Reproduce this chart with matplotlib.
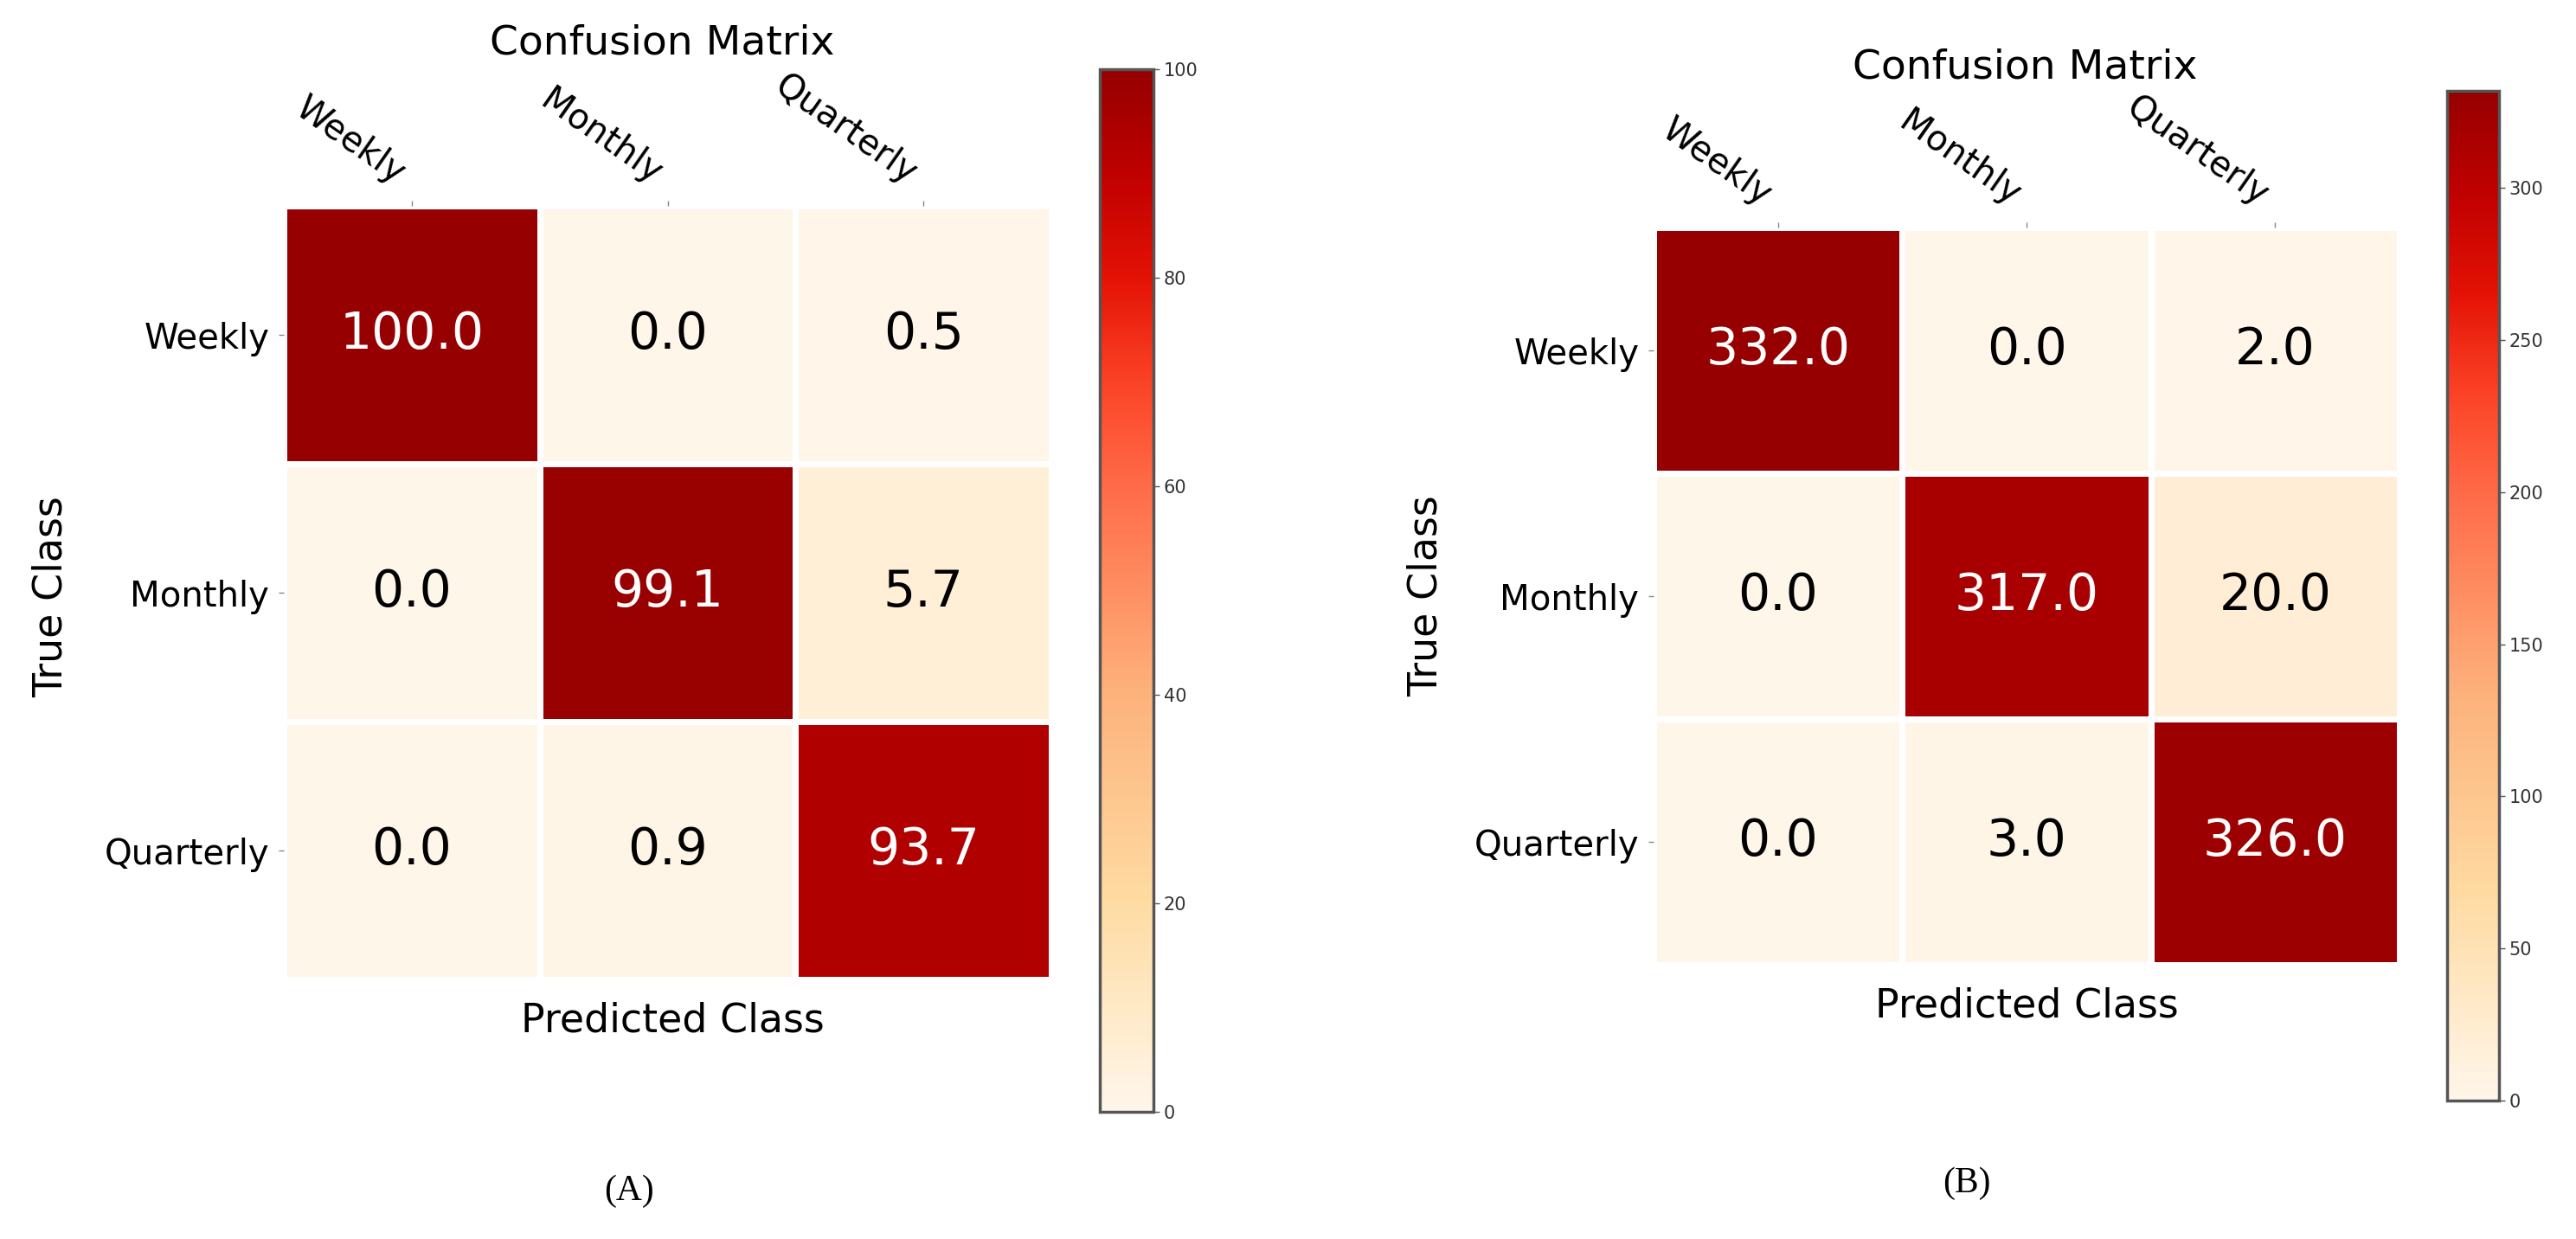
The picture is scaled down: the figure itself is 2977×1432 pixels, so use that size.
import numpy as np
import matplotlib
matplotlib.use("Agg")
import matplotlib.pyplot as plt
from matplotlib.colors import LinearSegmentedColormap

classes = ["Weekly", "Monthly", "Quarterly"]

# panel (A): percentages
cm_a = [
    [100.0, 0.0, 0.5],
    [0.0, 99.1, 5.7],
    [0.0, 0.9, 93.7],
]
# panel (B): counts
cm_b = [
    [332.0, 0.0, 2.0],
    [0.0, 317.0, 20.0],
    [0.0, 3.0, 326.0],
]
ticks_a = [0, 20, 40, 60, 80, 100]
ticks_b = [0, 50, 100, 150, 200, 250, 300]

# colours picked off the reference colorbar
cmap = LinearSegmentedColormap.from_list(
    "orrd_ref",
    [
        (0.00, "#fff6ea"),
        (0.20, "#fedba2"),
        (0.40, "#fdb27c"),
        (0.60, "#ff6b48"),
        (0.70, "#fb4326"),
        (0.80, "#e41205"),
        (0.90, "#c00000"),
        (1.00, "#960000"),
    ],
)

W, H = 2977, 1432
fig = plt.figure(figsize=(W / 100, H / 100), dpi=100)


def px_rect(x0, y0, x1, y1):
    # pixel box (top-left origin) -> figure fraction rect
    return [x0 / W, 1 - y1 / H, (x1 - x0) / W, (y1 - y0) / H]


def draw_panel(data, hm_box, cb_box, cb_ticks):
    data = np.array(data)
    vmin, vmax = data.min(), data.max()
    ax = fig.add_axes(px_rect(*hm_box))
    mesh = ax.pcolormesh(data, cmap=cmap, vmin=vmin, vmax=vmax,
                         edgecolors="white", linewidth=5)
    ax.set_xlim(0, 3)
    ax.set_ylim(3, 0)
    for s in ax.spines.values():
        s.set_visible(False)

    ax.xaxis.tick_top()
    ax.set_xticks(np.arange(3) + 0.5)
    ax.set_yticks(np.arange(3) + 0.5)
    ax.set_xticklabels(classes, fontsize=29, rotation=-35, ha="right",
                       rotation_mode="default")
    ax.set_yticklabels(classes, fontsize=29)
    ax.tick_params(axis="both", length=4, width=1, color="#888888", pad=8)

    for i in range(3):
        for j in range(3):
            v = data[i, j]
            frac = (v - vmin) / (vmax - vmin)
            ax.text(j + 0.5, i + 0.5, f"{v:.1f}", ha="center", va="center",
                    fontsize=42, color="white" if frac > 0.5 else "black")

    cax = fig.add_axes(px_rect(*cb_box))
    cb = fig.colorbar(mesh, cax=cax, ticks=cb_ticks)
    cb.outline.set_edgecolor("#555555")
    cb.outline.set_linewidth(2.5)
    cax.tick_params(labelsize=15, length=5, width=1, color="#555555",
                    labelcolor="#333333")
    return ax


draw_panel(cm_a, (328, 238, 1215, 1132), (1271, 80, 1333, 1285), ticks_a)
draw_panel(cm_b, (1911, 263, 2773, 1115), (2828, 105, 2888, 1272), ticks_b)

# titles, axis labels and panel letters
fig.text(765 / W, 1 - 50 / H, "Confusion Matrix", fontsize=34, ha="center", va="center")
fig.text(2340 / W, 1 - 78 / H, "Confusion Matrix", fontsize=34, ha="center", va="center")
fig.text(777 / W, 1 - 1180 / H, "Predicted Class", fontsize=33, ha="center", va="center")
fig.text(2342 / W, 1 - 1163 / H, "Predicted Class", fontsize=33, ha="center", va="center")
fig.text(59 / W, 1 - 690 / H, "True Class", fontsize=33, ha="center", va="center", rotation=90)
fig.text(1648 / W, 1 - 689 / H, "True Class", fontsize=33, ha="center", va="center", rotation=90)
fig.text(727 / W, 1 - 1377 / H, "(A)", fontsize=30, ha="center", va="center",
         family="Liberation Serif")
fig.text(2273 / W, 1 - 1368 / H, "(B)", fontsize=30, ha="center", va="center",
         family="Liberation Serif")

fig.savefig("out.png", dpi=100, facecolor="white")
